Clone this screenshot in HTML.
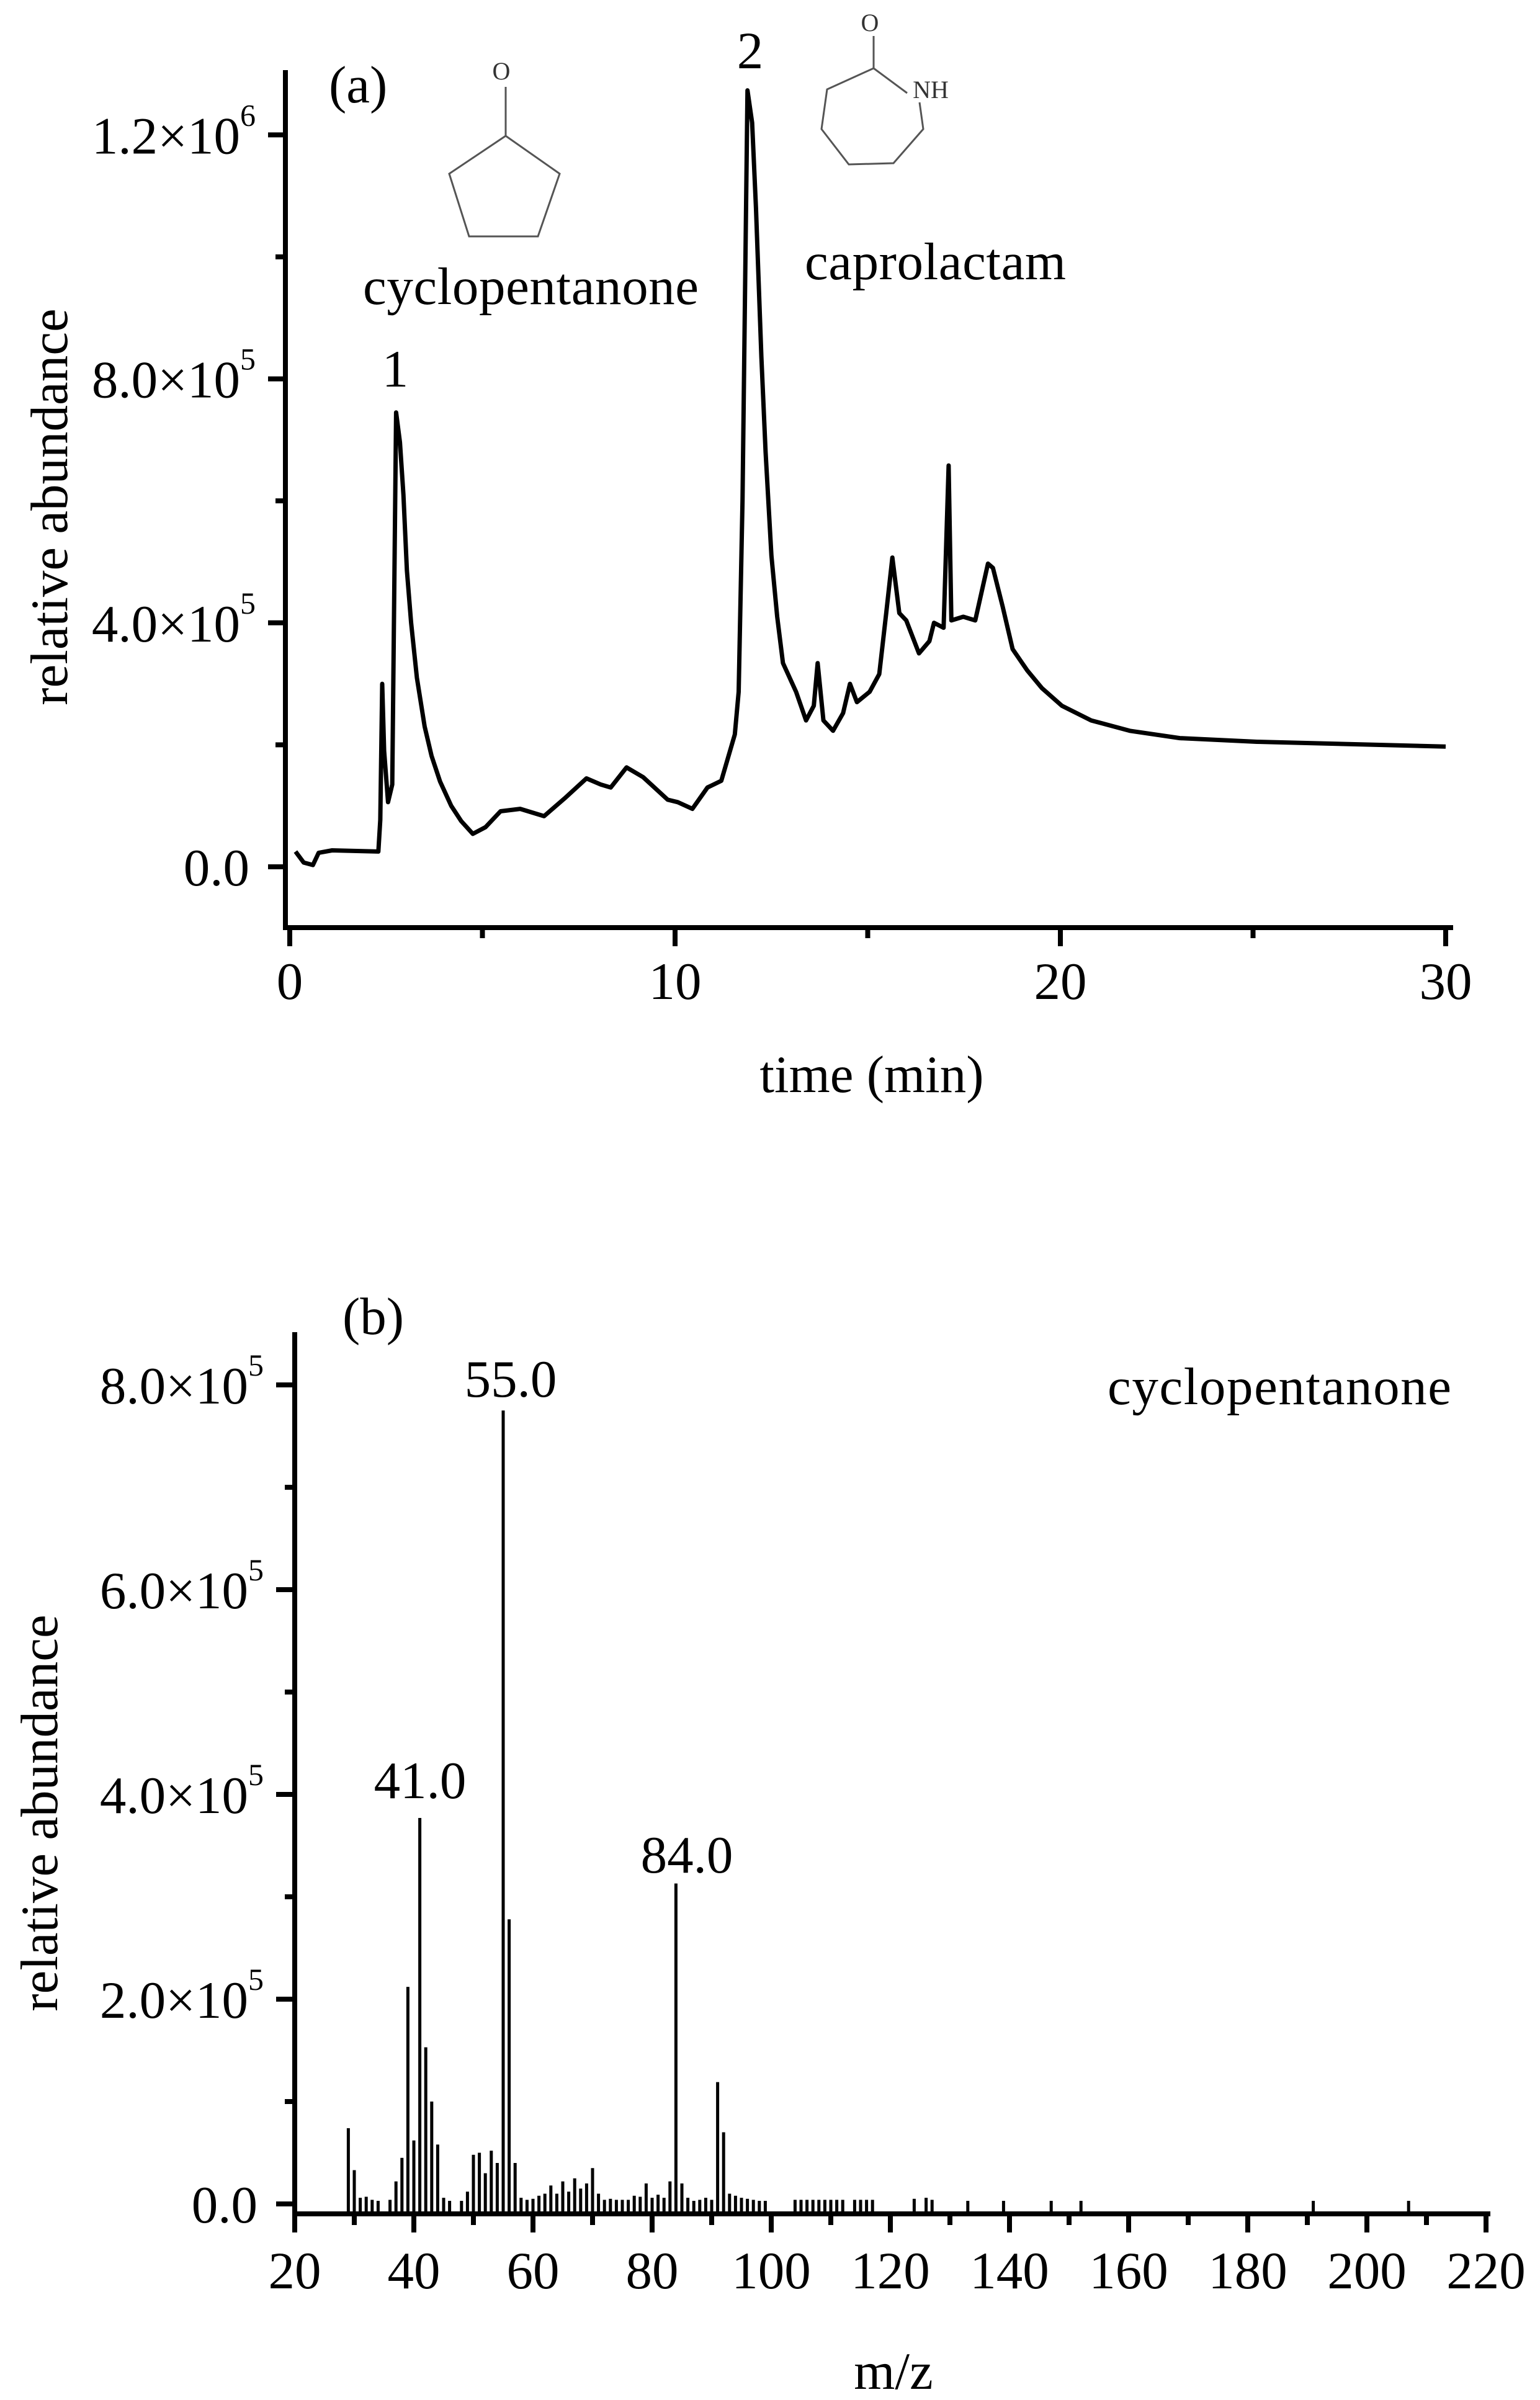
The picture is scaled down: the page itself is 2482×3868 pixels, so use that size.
<!DOCTYPE html>
<html><head><meta charset="utf-8"><style>
html,body{margin:0;padding:0;background:#fff;}
svg{display:block;font-family:"Liberation Serif","DejaVu Serif",serif;}
</style></head><body>
<svg id="chart" width="2482" height="3868" viewBox="0 0 2482 3868" xmlns="http://www.w3.org/2000/svg">
<g id="pa"></g>
<g id="pb"></g>
</svg>
<script>
// Panel (a) data: chromatogram (time in min, abundance in 1e5)
const chromTime = [0.15,0.36,0.6,0.75,1.1,2.3,2.35,2.4,2.45,2.55,2.66,2.76,2.86,2.95,3.04,3.15,3.3,3.5,3.68,3.9,4.19,4.45,4.75,5.08,5.47,5.98,6.6,7.13,7.7,8.07,8.33,8.74,9.17,9.81,10.07,10.45,10.84,11.2,11.55,11.65,11.75,11.88,12.0,12.1,12.24,12.35,12.5,12.65,12.8,13.14,13.4,13.6,13.7,13.85,14.1,14.36,14.54,14.72,15.05,15.3,15.48,15.64,15.82,16.0,16.33,16.6,16.72,16.97,17.1,17.17,17.48,17.79,18.12,18.25,18.5,18.76,19.14,19.52,20.04,20.8,21.8,23.1,25.1,28.2,30.0];
const chromValue = [0.25,0.07,0.03,0.23,0.27,0.25,0.77,3.0,1.9,1.06,1.35,7.45,6.96,6.1,4.86,4.0,3.1,2.3,1.82,1.4,1.0,0.75,0.54,0.65,0.91,0.95,0.83,1.12,1.45,1.35,1.3,1.63,1.47,1.1,1.06,0.95,1.3,1.41,2.17,2.87,6.0,12.73,12.2,10.8,8.36,6.8,5.1,4.1,3.34,2.87,2.4,2.64,3.34,2.4,2.23,2.52,3.0,2.7,2.87,3.16,4.16,5.07,4.16,4.04,3.5,3.7,4.0,3.92,6.58,4.04,4.1,4.04,4.97,4.9,4.27,3.57,3.22,2.93,2.64,2.4,2.23,2.11,2.05,2.0,1.97];
const aXTicks = [0,10,20,30];
const aXTickLabels = ["0","10","20","30"];
const aYTicks = [0,4,8,12];
const aYTickBase = ["0.0","4.0×10","8.0×10","1.2×10"];
const aYTickExp = ["","5","5","6"];

// Panel (b) data: mass spectrum (m/z, abundance in 1e5)
const msMz = [29,30,31,32,33,34,36,37,38,39,40,41,42,43,44,45,46,48,49,50,51,52,53,54,55,56,57,58,59,60,61,62,63,64,65,66,67,68,69,70,71,72,73,74,75,76,77,78,79,80,81,82,83,84,85,86,87,88,89,90,91,92,93,94,95,96,97,98,99,104,105,106,107,108,109,110,111,112,114,115,116,117,124,126,127,133,139,147,152,191,207];
const msValue = [0.74,0.33,0.06,0.07,0.04,0.03,0.04,0.22,0.45,2.12,0.62,3.77,1.53,1.0,0.58,0.06,0.03,0.03,0.12,0.48,0.5,0.3,0.52,0.4,7.75,2.78,0.4,0.06,0.04,0.05,0.08,0.1,0.18,0.1,0.22,0.12,0.25,0.15,0.2,0.35,0.1,0.04,0.05,0.04,0.04,0.04,0.08,0.07,0.2,0.06,0.09,0.06,0.22,3.13,0.2,0.06,0.03,0.04,0.06,0.04,1.19,0.7,0.1,0.08,0.06,0.05,0.04,0.03,0.03,0.04,0.04,0.04,0.04,0.04,0.04,0.04,0.04,0.04,0.04,0.04,0.04,0.04,0.05,0.06,0.04,0.03,0.03,0.03,0.03,0.03,0.03];
const bXTicks = [20,40,60,80,100,120,140,160,180,200,220];
const bYTicks = [0,2,4,6,8];
const bYTickBase = ["0.0","2.0×10","4.0×10","6.0×10","8.0×10"];
const bYTickExp = ["","5","5","5","5"];

const NS = "http://www.w3.org/2000/svg";
function mk(parent, tag, attrs, text){
  const e = document.createElementNS(NS, tag);
  for (const k in attrs) e.setAttribute(k, attrs[k]);
  if (text !== undefined) e.textContent = text;
  parent.appendChild(e);
  return e;
}
const ax = t => 467 + t * 62.1;
const ay = v => 1397 - v * 98.3;
const bx = m => 475 + (m - 20) * 9.6;
const by = v => 3552 - v * 165;

const pa = document.getElementById('pa');
const pb = document.getElementById('pb');

let e;
e = mk(pa,'line',{x1:460,y1:113,x2:460,y2:1499,stroke:'#000','stroke-width':8});
 
e = mk(pa,'line',{x1:456,y1:1495,x2:2342,y2:1495,stroke:'#000','stroke-width':8});
 
for (let t=0; t<=30; t+=5){
  const major = t%10===0;
  e = mk(pa,'line',{x1:ax(t),y1:1495,x2:ax(t),y2:1495+(major?30:17),stroke:'#000','stroke-width':8});
   
}
aXTicks.forEach((t,i)=>{
  e = mk(pa,'text',{x:ax(t),y:1610,'font-size':85,'text-anchor':'middle'},aXTickLabels[i]);
   
});
for (let v=0; v<=12; v+=2){
  const major = v%4===0;
  e = mk(pa,'line',{x1:460,y1:ay(v),x2:460-(major?28:16),y2:ay(v),stroke:'#000','stroke-width':8});
   
}
aYTicks.forEach((v,i)=>{
  const t = mk(pa,'text',{x:aYTickExp[i]?412:402,y:ay(v)+30,'font-size':85,'text-anchor':'end'});
   
  mk(t,'tspan',{},aYTickBase[i]);
  if (aYTickExp[i]) mk(t,'tspan',{'font-size':50,dy:-45},aYTickExp[i]);
});
let d = chromTime.map((t,i)=>(i?'L':'M')+ax(t).toFixed(1)+','+ay(chromValue[i]).toFixed(1)).join(' ');
e = mk(pa,'path',{d:d,fill:'none',stroke:'#000','stroke-width':7,'stroke-linejoin':'round'});
 

e = mk(pa,'text',{x:1405,y:1760,'font-size':85,'text-anchor':'middle'},'time (min)');
 
e = mk(pa,'text',{x:0,y:0,'font-size':85,'text-anchor':'middle',transform:'translate(108,817) rotate(-90)'},'relative abundance');
 
e = mk(pa,'text',{x:530,y:165,'font-size':85},'(a)');
 
e = mk(pa,'text',{x:637,y:623,'font-size':85,'text-anchor':'middle'},'1');
 
e = mk(pa,'text',{x:1209,y:110,'font-size':85,'text-anchor':'middle'},'2');
 
e = mk(pa,'text',{x:585,y:490,'font-size':85,textLength:541},'cyclopentanone');
 
e = mk(pa,'text',{x:1297,y:450,'font-size':85,textLength:421},'caprolactam');
 
e = mk(pa,'polygon',{points:'815,219 902,280 867,381 756,381 724,280',fill:'none',stroke:'#555','stroke-width':3});
 
e = mk(pa,'line',{x1:815,y1:140,x2:815,y2:219,stroke:'#555','stroke-width':3});
 
e = mk(pa,'text',{x:808,y:128,'font-size':40,'text-anchor':'middle',fill:'#333'},'O');
 
e = mk(pa,'polyline',{points:'1462,150 1408,110 1333,144 1324,208 1368,265 1440,263 1488,208 1482,165',fill:'none',stroke:'#555','stroke-width':3});
 
e = mk(pa,'line',{x1:1408,y1:58,x2:1408,y2:110,stroke:'#555','stroke-width':3});
 
e = mk(pa,'text',{x:1402,y:50,'font-size':40,'text-anchor':'middle',fill:'#333'},'O');
 
e = mk(pa,'text',{x:1500,y:158,'font-size':40,'text-anchor':'middle',fill:'#333'},'NH');
 

e = mk(pb,'line',{x1:475,y1:2147,x2:475,y2:3572,stroke:'#000','stroke-width':8});
 
e = mk(pb,'line',{x1:471,y1:3568,x2:2402,y2:3568,stroke:'#000','stroke-width':8});
 
for (let m=20; m<=220; m+=10){
  const major = m%20===0;
  e = mk(pb,'line',{x1:bx(m),y1:3568,x2:bx(m),y2:3568+(major?30:18),stroke:'#000','stroke-width':8});
   
}
bXTicks.forEach(m=>{
  e = mk(pb,'text',{x:bx(m),y:3688,'font-size':85,'text-anchor':'middle'},String(m));
   
});
for (let v=0; v<=8; v+=1){
  const major = v%2===0;
  e = mk(pb,'line',{x1:475,y1:by(v),x2:475-(major?30:16),y2:by(v),stroke:'#000','stroke-width':8});
   
}
bYTicks.forEach((v,i)=>{
  const t = mk(pb,'text',{x:bYTickExp[i]?425:415,y:by(v)+30,'font-size':85,'text-anchor':'end'});
   
  mk(t,'tspan',{},bYTickBase[i]);
  if (bYTickExp[i]) mk(t,'tspan',{'font-size':50,dy:-45},bYTickExp[i]);
});
msMz.forEach((m,i)=>{
  const b = mk(pb,'rect',{x:bx(m)-2.5,y:by(msValue[i]),width:5,height:3568-by(msValue[i]),fill:'#000'});
   
});
e = mk(pb,'text',{x:823,y:2251,'font-size':85,'text-anchor':'middle'},'55.0');
 
e = mk(pb,'text',{x:677,y:2898,'font-size':85,'text-anchor':'middle'},'41.0');
 
e = mk(pb,'text',{x:1107,y:3018,'font-size':85,'text-anchor':'middle'},'84.0');
 
e = mk(pb,'text',{x:1785,y:2263,'font-size':85,textLength:554},'cyclopentanone');
 
e = mk(pb,'text',{x:552,y:2150,'font-size':85},'(b)');
 
e = mk(pb,'text',{x:1440,y:3850,'font-size':85,'text-anchor':'middle'},'m/z');
 
e = mk(pb,'text',{x:0,y:0,'font-size':85,'text-anchor':'middle',transform:'translate(92,2922) rotate(-90)'},'relative abundance');
 
</script>
</body></html>
